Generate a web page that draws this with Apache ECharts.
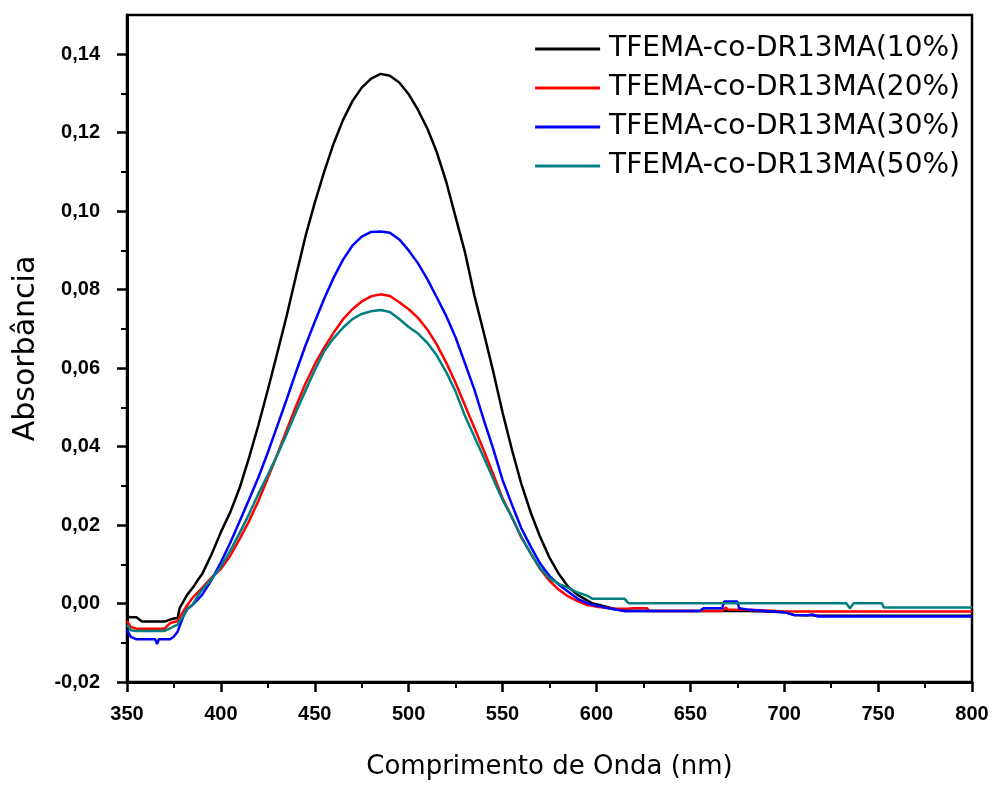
<!DOCTYPE html>
<html>
<head>
<meta charset="utf-8">
<script src="https://cdn.jsdelivr.net/npm/echarts@6/dist/echarts.min.js"></script>
<style>
  html, body { margin: 0; padding: 0; background: #fff; }
  #chart { width: 994px; height: 785px; }
</style>
</head>
<body>
<div id="chart"></div>
<script>
// wavelengths (nm), shared by all four spectra
const wavelengths = [
  350, 352, 355, 358, 360, 365, 366, 367, 370, 373, 375, 377, 378, 380, 382, 385, 388, 390, 395, 400,
  405, 410, 415, 420, 425, 430, 435, 440, 445, 450,
  455, 460, 465, 470, 475, 480, 485, 490, 495, 500,
  505, 510, 515, 520, 525, 530, 535, 540, 545, 550,
  555, 560, 565, 570, 575, 580, 585, 590, 595,
  598, 600, 605, 610, 615, 617, 620, 627, 628, 640,
  655, 657, 660, 667, 668, 669, 670, 675, 676, 680,
  690, 700, 705, 712, 715, 718, 733, 735, 737, 752,
  753, 770, 800
]

const seriesNames = [
  'TFEMA-co-DR13MA(10%)',
  'TFEMA-co-DR13MA(20%)',
  'TFEMA-co-DR13MA(30%)',
  'TFEMA-co-DR13MA(50%)'
]

const abs10 = [
  -0.0033, -0.0035, -0.0035, -0.0046, -0.0046, -0.0046, -0.0046, -0.0046, -0.0046, -0.0041, -0.0038, -0.0037, -0.0012, 0.0005, 0.0022, 0.0040, 0.0062, 0.0075, 0.0125, 0.0182,
  0.0233, 0.0295, 0.0372, 0.0455, 0.0545, 0.0638, 0.0733, 0.0835, 0.0935, 0.1022,
  0.1100, 0.1172, 0.1232, 0.1280, 0.1315, 0.1338, 0.1350, 0.1345, 0.1328, 0.1298,
  0.1258, 0.1210, 0.1150, 0.1075, 0.0985, 0.0895, 0.0785, 0.0690, 0.0592, 0.0487,
  0.0392, 0.0305, 0.0232, 0.0170, 0.0117, 0.0075, 0.0042, 0.0022, 0.0008,
  0.0000, -0.0002, -0.0008, -0.0014, -0.0019, -0.0019, -0.0019, -0.0019, -0.0019, -0.0019,
  -0.0019, -0.0019, -0.0019, -0.0019, -0.0019, -0.0019, -0.0019, -0.0019, -0.0019, -0.0019,
  -0.0020, -0.0022, -0.0029, -0.0030, -0.0030, -0.0031, -0.0031, -0.0031, -0.0031, -0.0031,
  -0.0031, -0.0031, -0.0031
]

const abs20 = [
  -0.0044, -0.0060, -0.0064, -0.0064, -0.0064, -0.0064, -0.0064, -0.0064, -0.0064, -0.0050, -0.0047, -0.0045, -0.0035, -0.0020, -0.0005, 0.0015, 0.0030, 0.0040, 0.0066, 0.0088,
  0.0122, 0.0165, 0.0210, 0.0262, 0.0320, 0.0380, 0.0442, 0.0503, 0.0560, 0.0610,
  0.0652, 0.0690, 0.0724, 0.0750, 0.0770, 0.0783, 0.0788, 0.0784, 0.0768, 0.0750,
  0.0728, 0.0698, 0.0660, 0.0614, 0.0562, 0.0505, 0.0448, 0.0390, 0.0330, 0.0268,
  0.0220, 0.0168, 0.0128, 0.0088, 0.0058, 0.0035, 0.0018, 0.0006, -0.0004,
  -0.0006, -0.0008, -0.0011, -0.0013, -0.0013, -0.0013, -0.0012, -0.0012, -0.0019, -0.0019,
  -0.0019, -0.0019, -0.0019, -0.0019, -0.0019, -0.0010, -0.0016, -0.0016, -0.0016, -0.0016,
  -0.0018, -0.0020, -0.0020, -0.0020, -0.0020, -0.0020, -0.0020, -0.0020, -0.0020, -0.0020,
  -0.0020, -0.0020, -0.0020
]

const abs30 = [
  -0.0067, -0.0085, -0.0091, -0.0091, -0.0091, -0.0091, -0.0103, -0.0091, -0.0091, -0.0091, -0.0084, -0.0071, -0.0058, -0.0033, -0.0015, -0.0003, 0.0012, 0.0022, 0.0060, 0.0105,
  0.0155, 0.0210, 0.0265, 0.0322, 0.0385, 0.0452, 0.0520, 0.0590, 0.0657, 0.0718,
  0.0777, 0.0830, 0.0876, 0.0912, 0.0935, 0.0947, 0.0948, 0.0945, 0.0928, 0.0900,
  0.0867, 0.0826, 0.0780, 0.0733, 0.0678, 0.0612, 0.0545, 0.0468, 0.0395, 0.0315,
  0.0252, 0.0192, 0.0145, 0.0102, 0.0070, 0.0048, 0.0030, 0.0012, 0.0001,
  -0.0003, -0.0005, -0.0011, -0.0015, -0.0019, -0.0019, -0.0019, -0.0019, -0.0019, -0.0019,
  -0.0019, -0.0012, -0.0012, -0.0012, 0.0005, 0.0005, 0.0005, 0.0005, -0.0012, -0.0015,
  -0.0019, -0.0022, -0.0029, -0.0030, -0.0028, -0.0033, -0.0033, -0.0033, -0.0033, -0.0033,
  -0.0033, -0.0033, -0.0033
]

const abs50 = [
  -0.0054, -0.0068, -0.0070, -0.0070, -0.0070, -0.0070, -0.0070, -0.0070, -0.0070, -0.0063, -0.0058, -0.0054, -0.0045, -0.0032, -0.0015, -0.0002, 0.0022, 0.0035, 0.0062, 0.0094,
  0.0135, 0.0180, 0.0228, 0.0280, 0.0328, 0.0378, 0.0432, 0.0488, 0.0542, 0.0595,
  0.0643, 0.0676, 0.0703, 0.0725, 0.0738, 0.0745, 0.0748, 0.0743, 0.0725, 0.0705,
  0.0688, 0.0664, 0.0632, 0.0590, 0.0540, 0.0478, 0.0425, 0.0372, 0.0318, 0.0264,
  0.0220, 0.0170, 0.0128, 0.0090, 0.0064, 0.0050, 0.0040, 0.0028, 0.0020,
  0.0012, 0.0012, 0.0012, 0.0012, 0.0012, 0.0001, 0.0001, 0.0001, 0.0001, 0.0001,
  0.0001, 0.0001, 0.0001, 0.0001, 0.0001, 0.0001, 0.0001, 0.0001, 0.0001, 0.0001,
  0.0001, 0.0001, 0.0001, 0.0001, 0.0001, 0.0001, 0.0001, -0.0012, 0.0001, 0.0001,
  -0.0010, -0.0010, -0.0010
]

// y axis ticks (labels on the major ones)
const yMajorTicks = [-0.02, 0, 0.02, 0.04, 0.06, 0.08, 0.10, 0.12, 0.14]
const yMinorTicks = [-0.01, 0.01, 0.03, 0.05, 0.07, 0.09, 0.11, 0.13]

const seriesValues = [abs10, abs20, abs30, abs50]
const seriesColors = ['#000000', '#ff0000', '#0000ff', '#008080']

const chart = echarts.init(document.getElementById('chart'))

const font = '"DejaVu Sans", "Liberation Sans", Arial, sans-serif'
const tickFont = '"Liberation Sans", Arial, sans-serif'

const option = {
  animation: false,
  backgroundColor: '#fff',
  grid: {
    left: 127,
    right: 22,
    top: 15,
    bottom: 101,
    show: true,
    borderColor: '#000',
    borderWidth: 2.5,
    backgroundColor: 'transparent'
  },
  legend: {
    orient: 'vertical',
    right: 34,
    top: 35,
    padding: 0,
    itemWidth: 65,
    itemHeight: 3,
    itemGap: 11,
    icon: 'rect',
    textStyle: {
      fontFamily: font,
      fontSize: 28,
      color: '#000',
      padding: [0, 0, 0, 4]
    },
    data: seriesNames
  },
  xAxis: {
    type: 'value',
    min: 350,
    max: 800,
    interval: 50,
    name: 'Comprimento de Onda (nm)',
    nameLocation: 'middle',
    nameGap: 72,
    nameTextStyle: { fontFamily: font, fontSize: 26, color: '#000' },
    axisLine: { show: true, onZero: false, lineStyle: { color: '#000', width: 3 } },
    axisTick: { show: true, inside: false, length: 10, lineStyle: { color: '#000', width: 2.5 } },
    minorTick: { show: true, splitNumber: 2, length: 6, lineStyle: { color: '#000', width: 2 } },
    axisLabel: {
      margin: 22,
      fontFamily: tickFont,
      fontWeight: 'bold',
      fontSize: 20,
      color: '#000'
    },
    splitLine: { show: false }
  },
  yAxis: [
    {
      type: 'value',
      min: -0.02,
      max: 0.15,
      interval: 0.02,
      name: 'Absorbância',
      nameLocation: 'middle',
      nameGap: 86,
      nameTextStyle: { fontFamily: font, fontSize: 30, color: '#000' },
      axisLine: { show: true, onZero: false, lineStyle: { color: '#000', width: 3 } },
      axisTick: {
        show: true,
        inside: false,
        length: 10,
        customValues: yMajorTicks,
        lineStyle: { color: '#000', width: 2.5 }
      },
      minorTick: { show: false },
      axisLabel: {
        margin: 27,
        customValues: yMajorTicks,
        fontFamily: tickFont,
        fontWeight: 'bold',
        fontSize: 20,
        color: '#000',
        formatter: (v) => v.toFixed(2).replace('.', ',')
      },
      splitLine: { show: false }
    },
    {
      // minor ticks only
      type: 'value',
      position: 'left',
      min: -0.02,
      max: 0.15,
      axisLine: { show: false },
      axisTick: {
        show: true,
        inside: false,
        length: 6,
        customValues: yMinorTicks,
        lineStyle: { color: '#000', width: 2 }
      },
      axisLabel: { show: false },
      splitLine: { show: false }
    }
  ],
  series: seriesNames.map((name, i) => ({
    name,
    type: 'line',
    yAxisIndex: 0,
    showSymbol: false,
    symbol: 'none',
    color: seriesColors[i],
    lineStyle: { width: 2.5, color: seriesColors[i] },
    data: wavelengths.map((w, j) => [w, seriesValues[i][j]])
  }))
}

chart.setOption(option)
</script>
</body>
</html>
